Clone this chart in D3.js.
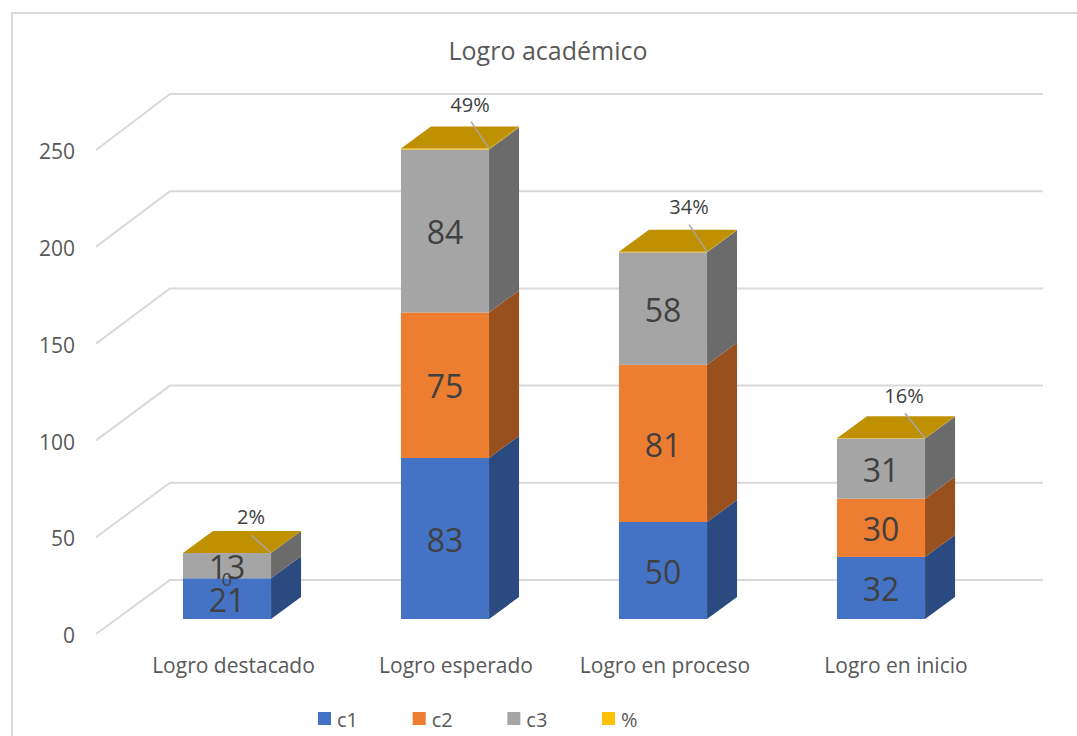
<!DOCTYPE html>
<meta charset="utf-8">
<script src="https://d3js.org/d3.v7.min.js"></script>
<style>
  html, body { margin: 0; background: #fff; }
  text { font-family: "Open Sans", sans-serif; fill: #595959; }
  .value { fill: #404040; }
</style>
<body>
<div id="chart"></div>
<script>
    // chart data
    var categories = ["Logro destacado", "Logro esperado", "Logro en proceso", "Logro en inicio"];
    var c1 = [21, 83, 50, 32];
    var c2 = [0, 75, 81, 30];
    var c3 = [13, 84, 58, 31];
    var pct = [0.02, 0.49, 0.34, 0.16];
    var seriesNames = ["c1", "c2", "c3", "%"];
    var yTicks = [0, 50, 100, 150, 200, 250];

    var width = 1077, height = 736;
    var depthX = 30, depthY = 22;   // bar depth

    var colors = { "c1": "#4472C4", "c2": "#ED7D31", "c3": "#A5A5A5", "%": "#FFC000" };
    var sideColors = { "c1": "#2A4A80", "c2": "#98501F", "c3": "#6B6B6B", "%": "#BF9000" };

    var svg = d3.select("#chart").append("svg")
        .attr("width", width)
        .attr("height", height)
        .style("display", "block");

    // outer frame: left and top edges only are in the picture
    svg.append("path")
        .attr("d", "M12,740V13H1077")
        .attr("fill", "none")
        .attr("stroke", "#D9D9D9")
        .attr("stroke-width", 2);

    svg.append("text")
        .attr("x", 548)
        .attr("y", 60)
        .attr("text-anchor", "middle")
        .style("font-size", "25px")
        .text("Logro académico");

    var x = d3.scaleBand().domain(categories).range([118, 990]).paddingInner(0.596).paddingOuter(0.298);
    var y = d3.scaleLinear().domain([0, 250]).range([619, 134]);        // bars
    var frontY = d3.scaleLinear().domain([0, 250]).range([634, 150]);   // front edge of the floor
    var backY = d3.scaleLinear().domain([0, 250]).range([580, 94]);     // back wall

    // gridlines: floor edge then back wall
    svg.append("g").selectAll("path")
        .data(yTicks)
        .enter()
        .append("path")
          .attr("d", function(d) {
            return "M96," + frontY(d) + "L170," + backY(d) + "H1043";
          })
          .attr("fill", "none")
          .attr("stroke", "#D9D9D9")
          .attr("stroke-width", 2);

    // y axis, labels only
    var yAxis = svg.append("g")
        .attr("transform", "translate(75,2)")
        .call(d3.axisLeft(frontY).tickValues(yTicks).tickSize(0).tickPadding(0));
    yAxis.select(".domain").remove();
    yAxis.selectAll("text")
        .style("font-size", "21px");

    // x axis, labels only. The labels do not sit exactly under the bars
    var xLabelDx = [6.5, 11, 2, 15];
    var xAxis = svg.append("g")
        .attr("transform", "translate(0,658)")
        .call(d3.axisBottom(x).tickSize(0).tickPadding(0));
    xAxis.select(".domain").remove();
    xAxis.selectAll("text")
        .attr("x", function(d, i) { return xLabelDx[i]; })
        .style("font-size", "21px");

    var rows = categories.map(function(c, i) {
      return { cat: c, "c1": c1[i], "c2": c2[i], "c3": c3[i], "%": pct[i] };
    });
    var stacked = d3.stack().keys(seriesNames)(rows);

    // draw the bars, bottom segment first
    stacked.forEach(function(s) {
      var g = svg.append("g");
      s.forEach(function(d) {
        var x0 = x(d.data.cat), x1 = x0 + x.bandwidth();
        var yb = y(d[0]), yt = y(d[1]);

        g.append("rect")
          .attr("x", x0)
          .attr("y", yt)
          .attr("width", x.bandwidth())
          .attr("height", yb - yt)
          .attr("fill", colors[s.key]);

        g.append("path")
          .attr("d", "M" + x1 + "," + yb + "L" + (x1 + depthX) + "," + (yb - depthY) +
                     "V" + (yt - depthY) + "L" + x1 + "," + yt + "Z")
          .attr("fill", sideColors[s.key]);

        // only the % series shows its top
        if (s.key == "%") {
          g.append("path")
            .attr("d", "M" + x0 + "," + yt + "L" + (x0 + depthX) + "," + (yt - depthY) +
                       "H" + (x1 + depthX) + "L" + x1 + "," + yt + "Z")
            .attr("fill", "#BF9000");
        }
      });
    });

    // big value labels
    stacked.slice(0, 3).forEach(function(s) {
      svg.append("g").selectAll("text")
        .data(s.filter(function(d) { return d[1] > d[0]; }))
        .enter()
        .append("text")
          .attr("class", "value")
          .attr("x", function(d) { return x(d.data.cat) + x.bandwidth() / 2; })
          .attr("y", function(d) { return y((d[0] + d[1]) / 2) + 2; })
          .attr("dy", "0.35em")
          .attr("text-anchor", "middle")
          .style("font-size", "32px")
          .text(function(d) { return d[1] - d[0]; });
    });

    // the empty c2 segment of the first bar still has its small label
    svg.append("text")
        .attr("class", "value")
        .attr("x", x(categories[0]) + x.bandwidth() / 2)
        .attr("y", y(c1[0]) + 1)
        .attr("dy", "0.35em")
        .attr("text-anchor", "middle")
        .style("font-size", "18px")
        .text(c2[0]);

    // % labels with leader lines, hand placed relative to the bar top
    var labelDx = [24, 25, 26, 23];
    var labelDy = [36, 44, 45, 42];
    var leaderDx = [-20, -18, -18, -20];
    var leaderDy = [-18, -27, -27, -25];
    stacked[3].forEach(function(d, i) {
      var x0 = x(d.data.cat), x1 = x0 + x.bandwidth(), yt = y(d[1]);

      svg.append("line")
        .attr("x1", x1)
        .attr("y1", yt)
        .attr("x2", x1 + leaderDx[i])
        .attr("y2", yt + leaderDy[i])
        .attr("stroke", "#A5A5A5")
        .attr("stroke-width", 1.5);

      svg.append("text")
        .attr("class", "value")
        .attr("x", x0 + x.bandwidth() / 2 + labelDx[i])
        .attr("y", yt - labelDy[i])
        .attr("dy", "0.35em")
        .attr("text-anchor", "middle")
        .style("font-size", "20px")
        .text(Math.round(pct[i] * 100) + "%");
    });

    // legend
    var legendX = d3.scalePoint().domain(seriesNames).range([318, 602]);
    var legend = svg.append("g").selectAll("g")
        .data(seriesNames)
        .enter()
        .append("g")
          .attr("transform", function(d) { return "translate(" + legendX(d) + ",712)"; });
    legend.append("rect")
        .attr("width", 13)
        .attr("height", 13)
        .attr("fill", function(d) { return colors[d]; });
    legend.append("text")
        .attr("x", 19)
        .attr("y", 15)
        .style("font-size", "20px")
        .text(function(d) { return d; });
</script>
</body>
